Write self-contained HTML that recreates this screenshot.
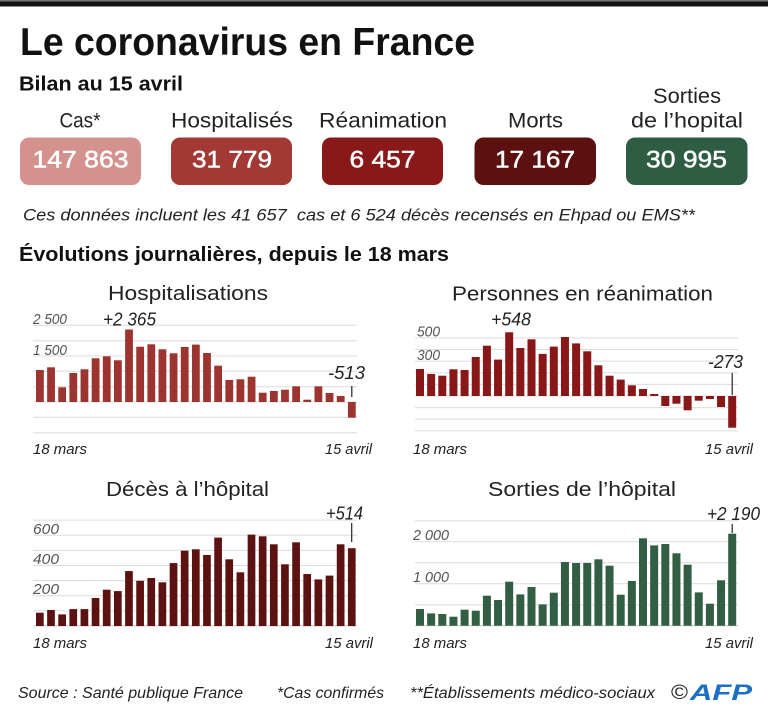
<!DOCTYPE html>
<html><head><meta charset="utf-8">
<style>
html,body{margin:0;padding:0;background:#fff;}
svg{display:block;}
text{font-family:"Liberation Sans",sans-serif;white-space:pre;}
.it{font-style:italic;}
</style></head>
<body>
<svg width="768" height="716" viewBox="0 0 768 716" xmlns="http://www.w3.org/2000/svg">
<rect x="0" y="0" width="768" height="716" fill="#fff"/>
<rect x="0" y="0" width="768" height="1.5" fill="#777"/>
<rect x="0" y="1.5" width="768" height="5" fill="#141414"/>

<text x="20" y="55" font-size="39" font-weight="bold" fill="#111" textLength="455" lengthAdjust="spacingAndGlyphs">Le coronavirus en France</text>
<text x="19" y="90.5" font-size="20" font-weight="bold" fill="#111" textLength="164" lengthAdjust="spacingAndGlyphs">Bilan au 15 avril</text>

<g font-size="21" fill="#222" text-anchor="middle">
<text x="80" y="127.5" textLength="41" lengthAdjust="spacingAndGlyphs">Cas*</text>
<text x="232" y="127.5" textLength="122" lengthAdjust="spacingAndGlyphs">Hospitalisés</text>
<text x="383" y="127.5" textLength="128" lengthAdjust="spacingAndGlyphs">Réanimation</text>
<text x="535.5" y="127.5" textLength="55" lengthAdjust="spacingAndGlyphs">Morts</text>
<text x="687" y="103" textLength="68" lengthAdjust="spacingAndGlyphs">Sorties</text>
<text x="687" y="127.5" textLength="112" lengthAdjust="spacingAndGlyphs">de l’hopital</text>
</g>

<rect x="20" y="137.5" width="121" height="47.5" rx="9" fill="#d4928f"/>
<rect x="171" y="137.5" width="121" height="47.5" rx="9" fill="#a33934"/>
<rect x="322" y="137.5" width="121" height="47.5" rx="9" fill="#891818"/>
<rect x="474.5" y="137.5" width="121.5" height="47.5" rx="9" fill="#5c1010"/>
<rect x="626" y="137.5" width="121.5" height="47.5" rx="9" fill="#2f5d43"/>
<g font-size="24" fill="#fff" stroke="#fff" stroke-width="0.5" text-anchor="middle">
<text x="80.5" y="167.5" textLength="96" lengthAdjust="spacingAndGlyphs">147 863</text>
<text x="232" y="167.5" textLength="80" lengthAdjust="spacingAndGlyphs">31 779</text>
<text x="382.5" y="167.5" textLength="66" lengthAdjust="spacingAndGlyphs">6 457</text>
<text x="535" y="167.5" textLength="80" lengthAdjust="spacingAndGlyphs">17 167</text>
<text x="686.5" y="167.5" textLength="81" lengthAdjust="spacingAndGlyphs">30 995</text>
</g>

<text class="it" x="23" y="220.5" font-size="17" fill="#222" textLength="672" lengthAdjust="spacingAndGlyphs">Ces données incluent les 41 657  cas et 6 524 décès recensés en Ehpad ou EMS**</text>
<text x="19" y="261" font-size="20" font-weight="bold" fill="#111" textLength="430" lengthAdjust="spacingAndGlyphs">Évolutions journalières, depuis le 18 mars</text>

<!-- chart titles -->
<g font-size="20" fill="#222">
<text x="108" y="300" textLength="160" lengthAdjust="spacingAndGlyphs">Hospitalisations</text>
<text x="452" y="300.5" textLength="261" lengthAdjust="spacingAndGlyphs">Personnes en réanimation</text>
<text x="106" y="496" textLength="163" lengthAdjust="spacingAndGlyphs">Décès à l’hôpital</text>
<text x="488" y="496" textLength="188" lengthAdjust="spacingAndGlyphs">Sorties de l’hôpital</text>
</g>

<!-- gridlines -->
<g stroke="#dcdcdc" stroke-width="1">
<line x1="33" x2="357" y1="325.3" y2="325.3"/>
<line x1="33" x2="357" y1="340.7" y2="340.7"/>
<line x1="33" x2="357" y1="356" y2="356"/>
<line x1="33" x2="357" y1="371.3" y2="371.3"/>
<line x1="33" x2="357" y1="386.7" y2="386.7"/>
<line x1="33" x2="357" y1="402" y2="402"/>
<line x1="33" x2="357" y1="417.3" y2="417.3"/>
<line x1="33" x2="357" y1="432.7" y2="432.7"/>

<line x1="415" x2="738" y1="337.9" y2="337.9"/>
<line x1="415" x2="738" y1="349.5" y2="349.5"/>
<line x1="415" x2="738" y1="361.1" y2="361.1"/>
<line x1="415" x2="738" y1="372.8" y2="372.8"/>
<line x1="415" x2="738" y1="384.4" y2="384.4"/>
<line x1="415" x2="738" y1="396" y2="396"/>
<line x1="415" x2="738" y1="407.6" y2="407.6"/>
<line x1="415" x2="738" y1="419.2" y2="419.2"/>
<line x1="415" x2="738" y1="430.9" y2="430.9"/>

<line x1="33" x2="357" y1="520.1" y2="520.1"/>
<line x1="33" x2="357" y1="535.2" y2="535.2"/>
<line x1="33" x2="357" y1="550.4" y2="550.4"/>
<line x1="33" x2="357" y1="565.5" y2="565.5"/>
<line x1="33" x2="357" y1="580.6" y2="580.6"/>
<line x1="33" x2="357" y1="595.7" y2="595.7"/>
<line x1="33" x2="357" y1="610.9" y2="610.9"/>

<line x1="415" x2="738" y1="520.7" y2="520.7"/>
<line x1="415" x2="738" y1="541.7" y2="541.7"/>
<line x1="415" x2="738" y1="562.7" y2="562.7"/>
<line x1="415" x2="738" y1="583.7" y2="583.7"/>
<line x1="415" x2="738" y1="604.7" y2="604.7"/>
</g>
<g stroke="#c4c4c4" stroke-width="1">
<line x1="33" x2="357" y1="626" y2="626"/>
<line x1="415" x2="738" y1="625.7" y2="625.7"/>
</g>

<!-- tick labels -->
<g class="it" font-size="15" fill="#555" font-style="italic">
<text x="33" y="324" textLength="34" lengthAdjust="spacingAndGlyphs">2 500</text>
<text x="33" y="355" textLength="34" lengthAdjust="spacingAndGlyphs">1 500</text>
<text x="417" y="336.5" textLength="23" lengthAdjust="spacingAndGlyphs">500</text>
<text x="417" y="360" textLength="23" lengthAdjust="spacingAndGlyphs">300</text>
<text x="33" y="534" textLength="26" lengthAdjust="spacingAndGlyphs">600</text>
<text x="33" y="564" textLength="26" lengthAdjust="spacingAndGlyphs">400</text>
<text x="33" y="594" textLength="26" lengthAdjust="spacingAndGlyphs">200</text>
<text x="413" y="540" textLength="36" lengthAdjust="spacingAndGlyphs">2 000</text>
<text x="413" y="582" textLength="36" lengthAdjust="spacingAndGlyphs">1 000</text>
</g>

<!-- x labels -->
<g font-size="15" fill="#222" font-style="italic">
<text x="33" y="454" textLength="54" lengthAdjust="spacingAndGlyphs">18 mars</text>
<text x="325" y="454" textLength="47" lengthAdjust="spacingAndGlyphs">15 avril</text>
<text x="413" y="454" textLength="54" lengthAdjust="spacingAndGlyphs">18 mars</text>
<text x="705" y="454" textLength="48" lengthAdjust="spacingAndGlyphs">15 avril</text>
<text x="33" y="648" textLength="54" lengthAdjust="spacingAndGlyphs">18 mars</text>
<text x="325" y="648" textLength="48" lengthAdjust="spacingAndGlyphs">15 avril</text>
<text x="413" y="648" textLength="54" lengthAdjust="spacingAndGlyphs">18 mars</text>
<text x="705" y="648" textLength="48" lengthAdjust="spacingAndGlyphs">15 avril</text>
</g>

<!-- Hospitalisations bars -->
<g fill="#9e342f">
<rect x="36" y="370" width="7.8" height="32"/>
<rect x="47.14" y="367.3" width="7.8" height="34.7"/>
<rect x="58.28" y="387.3" width="7.8" height="14.7"/>
<rect x="69.42" y="373" width="7.8" height="29"/>
<rect x="80.56" y="369.3" width="7.8" height="32.7"/>
<rect x="91.7" y="358.3" width="7.8" height="43.7"/>
<rect x="102.84" y="356.3" width="7.8" height="45.7"/>
<rect x="113.98" y="360.3" width="7.8" height="41.7"/>
<rect x="125.12" y="329.5" width="7.8" height="72.5"/>
<rect x="136.26" y="346.7" width="7.8" height="55.3"/>
<rect x="147.4" y="344.3" width="7.8" height="57.7"/>
<rect x="158.54" y="349.3" width="7.8" height="52.7"/>
<rect x="169.68" y="353.3" width="7.8" height="48.7"/>
<rect x="180.82" y="347" width="7.8" height="55"/>
<rect x="191.96" y="344.6" width="7.8" height="57.4"/>
<rect x="203.1" y="353" width="7.8" height="49"/>
<rect x="214.24" y="365.7" width="7.8" height="36.3"/>
<rect x="225.38" y="380" width="7.8" height="22"/>
<rect x="236.52" y="379.3" width="7.8" height="22.7"/>
<rect x="247.66" y="376.7" width="7.8" height="25.3"/>
<rect x="258.8" y="392.7" width="7.8" height="9.3"/>
<rect x="269.94" y="391" width="7.8" height="11"/>
<rect x="281.08" y="389.7" width="7.8" height="12.3"/>
<rect x="292.22" y="386.3" width="7.8" height="15.7"/>
<rect x="303.36" y="399.7" width="7.8" height="2.3"/>
<rect x="314.5" y="386.3" width="7.8" height="15.7"/>
<rect x="325.64" y="393" width="7.8" height="9"/>
<rect x="336.78" y="396" width="7.8" height="6"/>
<rect x="347.92" y="402" width="7.8" height="15.7"/>
</g>

<!-- Réanimation bars -->
<g fill="#891718">
<rect x="416" y="369" width="8" height="27"/>
<rect x="427.15" y="374" width="8" height="22"/>
<rect x="438.3" y="375.7" width="8" height="20.3"/>
<rect x="449.45" y="369.3" width="8" height="26.7"/>
<rect x="460.6" y="370" width="8" height="26"/>
<rect x="471.75" y="357" width="8" height="39"/>
<rect x="482.9" y="345.7" width="8" height="50.3"/>
<rect x="494.05" y="359.6" width="8" height="36.4"/>
<rect x="505.2" y="332.3" width="8" height="63.7"/>
<rect x="516.35" y="348" width="8" height="48"/>
<rect x="527.5" y="339.3" width="8" height="56.7"/>
<rect x="538.65" y="353.9" width="8" height="42.1"/>
<rect x="549.8" y="346.6" width="8" height="49.4"/>
<rect x="560.95" y="337" width="8" height="59"/>
<rect x="572.1" y="343.4" width="8" height="52.6"/>
<rect x="583.25" y="351.3" width="8" height="44.7"/>
<rect x="594.4" y="365.3" width="8" height="30.7"/>
<rect x="605.55" y="375.7" width="8" height="20.3"/>
<rect x="616.7" y="379.6" width="8" height="16.4"/>
<rect x="627.85" y="385.3" width="8" height="10.7"/>
<rect x="639" y="389" width="8" height="7"/>
<rect x="650.15" y="394" width="8" height="2"/>
<rect x="661.3" y="396" width="8" height="10"/>
<rect x="672.45" y="396" width="8" height="7.7"/>
<rect x="683.6" y="396" width="8" height="14.3"/>
<rect x="694.75" y="396" width="8" height="4.7"/>
<rect x="705.9" y="396" width="8" height="3"/>
<rect x="717.05" y="396" width="8" height="11"/>
<rect x="728.2" y="396" width="8" height="31.7"/>
</g>

<!-- Décès bars -->
<g fill="#5c1210">
<rect x="36" y="612.7" width="7.7" height="13.3"/>
<rect x="47.14" y="610" width="7.7" height="16"/>
<rect x="58.28" y="614.4" width="7.7" height="11.6"/>
<rect x="69.42" y="609.1" width="7.7" height="16.9"/>
<rect x="80.56" y="609.1" width="7.7" height="16.9"/>
<rect x="91.7" y="598" width="7.7" height="28"/>
<rect x="102.84" y="589.7" width="7.7" height="36.3"/>
<rect x="113.98" y="591.1" width="7.7" height="34.9"/>
<rect x="125.12" y="571.1" width="7.7" height="54.9"/>
<rect x="136.26" y="580.8" width="7.7" height="45.2"/>
<rect x="147.4" y="578" width="7.7" height="48"/>
<rect x="158.54" y="582.3" width="7.7" height="43.7"/>
<rect x="169.68" y="563.1" width="7.7" height="62.9"/>
<rect x="180.82" y="550.7" width="7.7" height="75.3"/>
<rect x="191.96" y="549.3" width="7.7" height="76.7"/>
<rect x="203.1" y="555" width="7.7" height="71"/>
<rect x="214.24" y="537.6" width="7.7" height="88.4"/>
<rect x="225.38" y="559.3" width="7.7" height="66.7"/>
<rect x="236.52" y="572.3" width="7.7" height="53.7"/>
<rect x="247.66" y="534.6" width="7.7" height="91.4"/>
<rect x="258.8" y="536.3" width="7.7" height="89.7"/>
<rect x="269.94" y="544.3" width="7.7" height="81.7"/>
<rect x="281.08" y="564.3" width="7.7" height="61.7"/>
<rect x="292.22" y="542.3" width="7.7" height="83.7"/>
<rect x="303.36" y="574" width="7.7" height="52"/>
<rect x="314.5" y="579.4" width="7.7" height="46.6"/>
<rect x="325.64" y="575.6" width="7.7" height="50.4"/>
<rect x="336.78" y="544.3" width="7.7" height="81.7"/>
<rect x="347.92" y="548.2" width="7.7" height="77.8"/>
</g>

<!-- Sorties bars -->
<g fill="#325e44">
<rect x="416" y="609" width="8" height="16.7"/>
<rect x="427.15" y="613.4" width="8" height="12.3"/>
<rect x="438.3" y="614" width="8" height="11.7"/>
<rect x="449.45" y="616.7" width="8" height="9"/>
<rect x="460.6" y="609.7" width="8" height="16"/>
<rect x="471.75" y="610.7" width="8" height="15"/>
<rect x="482.9" y="595.7" width="8" height="30"/>
<rect x="494.05" y="600" width="8" height="25.7"/>
<rect x="505.2" y="581.7" width="8" height="44"/>
<rect x="516.35" y="594.4" width="8" height="31.3"/>
<rect x="527.5" y="587" width="8" height="38.7"/>
<rect x="538.65" y="604.4" width="8" height="21.3"/>
<rect x="549.8" y="592.7" width="8" height="33"/>
<rect x="560.95" y="562" width="8" height="63.7"/>
<rect x="572.1" y="563" width="8" height="62.7"/>
<rect x="583.25" y="563" width="8" height="62.7"/>
<rect x="594.4" y="559.3" width="8" height="66.4"/>
<rect x="605.55" y="565.7" width="8" height="60"/>
<rect x="616.7" y="594.7" width="8" height="31"/>
<rect x="627.85" y="581" width="8" height="44.7"/>
<rect x="639" y="538.3" width="8" height="87.4"/>
<rect x="650.15" y="545.4" width="8" height="80.3"/>
<rect x="661.3" y="544" width="8" height="81.7"/>
<rect x="672.45" y="553.3" width="8" height="72.4"/>
<rect x="683.6" y="564.7" width="8" height="61"/>
<rect x="694.75" y="592.4" width="8" height="33.3"/>
<rect x="705.9" y="603.7" width="8" height="22"/>
<rect x="717.05" y="580.3" width="8" height="45.4"/>
<rect x="728.2" y="533.7" width="8" height="92"/>
</g>

<!-- annotations -->
<g stroke="#222" stroke-width="1.2">
<line x1="351.8" x2="351.8" y1="386" y2="397"/>
<line x1="732.2" x2="732.2" y1="373" y2="395"/>
<line x1="351.7" x2="351.7" y1="523" y2="542"/>
<line x1="732.2" x2="732.2" y1="524" y2="533"/>
</g>
<g font-size="18" fill="#222" font-style="italic">
<text x="103" y="325.5" textLength="53" lengthAdjust="spacingAndGlyphs">+2 365</text>
<text x="328" y="379" textLength="37" lengthAdjust="spacingAndGlyphs">-513</text>
<text x="491" y="325.5" textLength="40" lengthAdjust="spacingAndGlyphs">+548</text>
<text x="708" y="368" textLength="35" lengthAdjust="spacingAndGlyphs">-273</text>
<text x="326" y="519.5" textLength="37" lengthAdjust="spacingAndGlyphs">+514</text>
<text x="707" y="520" textLength="53" lengthAdjust="spacingAndGlyphs">+2 190</text>
</g>

<!-- footer -->
<g font-size="16" fill="#222" font-style="italic">
<text x="18" y="698" textLength="225" lengthAdjust="spacingAndGlyphs">Source : Santé publique France</text>
<text x="277" y="698" textLength="107" lengthAdjust="spacingAndGlyphs">*Cas confirmés</text>
<text x="410" y="698" textLength="245" lengthAdjust="spacingAndGlyphs">**Établissements médico-sociaux</text>
</g>
<text x="671" y="699" font-size="20" fill="#222" textLength="17" lengthAdjust="spacingAndGlyphs">©</text>
<text x="690" y="700" font-size="22" font-weight="bold" font-style="italic" fill="#1d6fc4" textLength="62" lengthAdjust="spacingAndGlyphs">AFP</text>
</svg>
</body></html>
